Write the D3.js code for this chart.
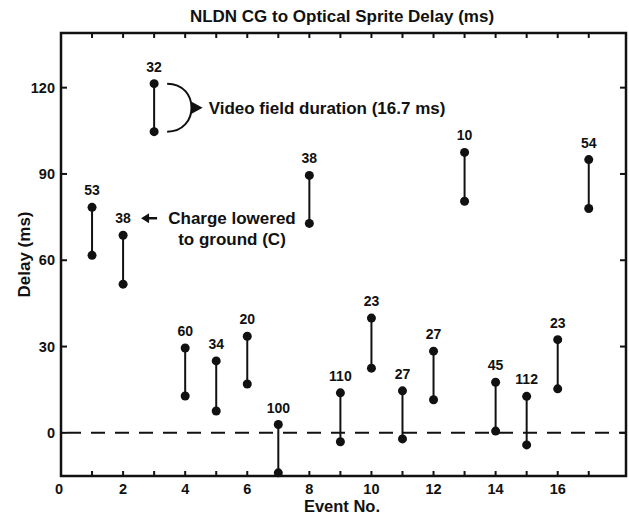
<!DOCTYPE html>
<html>
<head>
<meta charset="utf-8">
<script src="https://cdn.jsdelivr.net/npm/d3@7"></script>
<style>
  body { margin: 0; background: #fff; }
  svg text { font-family: "Liberation Sans", Arial, Helvetica, sans-serif; font-weight: bold; fill: #111; }
</style>
</head>
<body>
<svg id="chart" width="629" height="515"></svg>
<script>
// values
const events = [1, 2, 3, 4, 5, 6, 7, 8, 9, 10, 11, 12, 13, 14, 15, 16, 17];
const delayTop = [78.4, 68.7, 121.4, 29.5, 25, 33.6, 2.9, 89.5, 13.9, 39.9, 14.6, 28.4, 97.5, 17.6, 12.7, 32.4, 95];
const delayBottom = [61.7, 51.7, 104.7, 12.8, 7.6, 17, -13.9, 72.8, -3.1, 22.5, -2.1, 11.5, 80.5, 0.6, -4.2, 15.3, 78];
const labels = ["53", "38", "32", "60", "34", "20", "100", "38", "110", "23", "27", "27", "10", "45", "112", "23", "54"];
const xTicks = [0, 2, 4, 6, 8, 10, 12, 14, 16];
const xMinor = [1, 3, 5, 7, 9, 11, 13, 15, 17];
const yTicks = [0, 30, 60, 90, 120];

const svg = d3.select('#chart');
const margin = {top: 33, right: 3, bottom: 39, left: 61};
const width = 629, height = 515;

const x = d3.scaleLinear().domain([0, 18.2]).range([margin.left, width - margin.right]);
const y = d3.scaleLinear().domain([-15, 139]).range([height - margin.bottom, margin.top]);

// frame
svg.append('rect')
    .attr('x', x(0)).attr('y', y(139))
    .attr('width', x(18.2) - x(0)).attr('height', y(-15) - y(139))
    .attr('fill', 'none').attr('stroke', '#111').attr('stroke-width', 2.5);

const allX = xTicks.concat(xMinor).filter(d => d > 0);
// bottom + top ticks (inward)
svg.append('g').selectAll('line').data(allX).enter().append('line')
    .attr('x1', d => x(d)).attr('x2', d => x(d))
    .attr('y1', y(-15)).attr('y2', y(-15) - 5)
    .attr('stroke', '#111').attr('stroke-width', 2);
svg.append('g').selectAll('line').data(allX).enter().append('line')
    .attr('x1', d => x(d)).attr('x2', d => x(d))
    .attr('y1', y(139)).attr('y2', y(139) + 5)
    .attr('stroke', '#111').attr('stroke-width', 2);
// left + right ticks
svg.append('g').selectAll('line').data(yTicks).enter().append('line')
    .attr('x1', x(0)).attr('x2', x(0) + 6)
    .attr('y1', d => y(d)).attr('y2', d => y(d))
    .attr('stroke', '#111').attr('stroke-width', 2);
svg.append('g').selectAll('line').data(yTicks).enter().append('line')
    .attr('x1', x(18.2)).attr('x2', x(18.2) - 6)
    .attr('y1', d => y(d)).attr('y2', d => y(d))
    .attr('stroke', '#111').attr('stroke-width', 2);

// tick labels
svg.append('g').selectAll('text').data(xTicks).enter().append('text')
    .attr('x', d => x(d) - (d === 0 ? 2 : 0)).attr('y', y(-15) + 18)
    .attr('text-anchor', 'middle').attr('font-size', 14.5)
    .text(d => d);
svg.append('g').selectAll('text').data(yTicks).enter().append('text')
    .attr('x', x(0) - 6).attr('y', d => y(d) + 5)
    .attr('text-anchor', 'end').attr('font-size', 14.5)
    .text(d => d);

// titles
svg.append('text')
    .attr('x', 342).attr('y', 22)
    .attr('text-anchor', 'middle').attr('font-size', 17)
    .text('NLDN CG to Optical Sprite Delay (ms)');
svg.append('text')
    .attr('x', 342).attr('y', 512)
    .attr('text-anchor', 'middle').attr('font-size', 16.5)
    .text('Event No.');
svg.append('text')
    .attr('transform', `translate(30, ${(y(139) + y(-15)) / 2}) rotate(-90)`)
    .attr('text-anchor', 'middle').attr('font-size', 17)
    .text('Delay (ms)');

// zero reference line
svg.append('line')
    .attr('x1', x(0)).attr('x2', x(18.2))
    .attr('y1', y(0)).attr('y2', y(0))
    .attr('stroke', '#111').attr('stroke-width', 2)
    .attr('stroke-dasharray', '14,10').attr('stroke-dashoffset', -6);

// stems and dots
const g = svg.append('g');
const data = events.map((e, i) => ({e, top: delayTop[i], bot: delayBottom[i], lab: labels[i]}));
g.selectAll('line').data(data).enter().append('line')
    .attr('x1', d => x(d.e)).attr('x2', d => x(d.e))
    .attr('y1', d => y(d.top)).attr('y2', d => y(d.bot))
    .attr('stroke', '#111').attr('stroke-width', 2);
g.selectAll('circle.top').data(data).enter().append('circle')
    .attr('class', 'top')
    .attr('cx', d => x(d.e)).attr('cy', d => y(d.top)).attr('r', 4.5).attr('fill', '#111');
g.selectAll('circle.bot').data(data).enter().append('circle')
    .attr('class', 'bot')
    .attr('cx', d => x(d.e)).attr('cy', d => y(d.bot)).attr('r', 4.5).attr('fill', '#111');
g.selectAll('text').data(data).enter().append('text')
    .attr('x', d => x(d.e)).attr('y', d => y(d.top) - 12)
    .attr('text-anchor', 'middle').attr('font-size', 14)
    .text(d => d.lab);

// annotation: video field duration bracket
const e3 = data[2];
const ax = x(e3.e) + 13, ayT = y(e3.top), ayB = y(e3.bot);
const bulge = 25;
svg.append('path')
    .attr('d', `M${ax},${ayT} C${ax + bulge * 1.3},${ayT} ${ax + bulge * 1.3},${ayB} ${ax},${ayB}`)
    .attr('fill', 'none').attr('stroke', '#111').attr('stroke-width', 2);
const tipY = (ayT + ayB) / 2;
const tipX = ax + bulge * 0.98;
svg.append('path')
    .attr('d', `M${tipX},${tipY - 6} L${tipX + 11},${tipY} L${tipX},${tipY + 6} Z`)
    .attr('fill', '#111');
svg.append('text')
    .attr('x', tipX + 17).attr('y', tipY + 6)
    .attr('font-size', 17)
    .text('Video field duration (16.7 ms)');

// annotation: charge lowered to ground
const e2 = data[1];
const arrY = y(e2.top) - 17;
const arrX = x(e2.e) + 18;
svg.append('path')
    .attr('d', `M${arrX},${arrY} L${arrX + 8},${arrY - 5} L${arrX + 8},${arrY + 5} Z`)
    .attr('fill', '#111');
svg.append('line')
    .attr('x1', arrX + 6).attr('x2', arrX + 16)
    .attr('y1', arrY).attr('y2', arrY)
    .attr('stroke', '#111').attr('stroke-width', 2.5);
svg.append('text')
    .attr('x', 232).attr('y', arrY + 6)
    .attr('text-anchor', 'middle').attr('font-size', 17)
    .text('Charge lowered');
svg.append('text')
    .attr('x', 232).attr('y', arrY + 27)
    .attr('text-anchor', 'middle').attr('font-size', 17)
    .text('to ground (C)');
</script>
</body>
</html>
